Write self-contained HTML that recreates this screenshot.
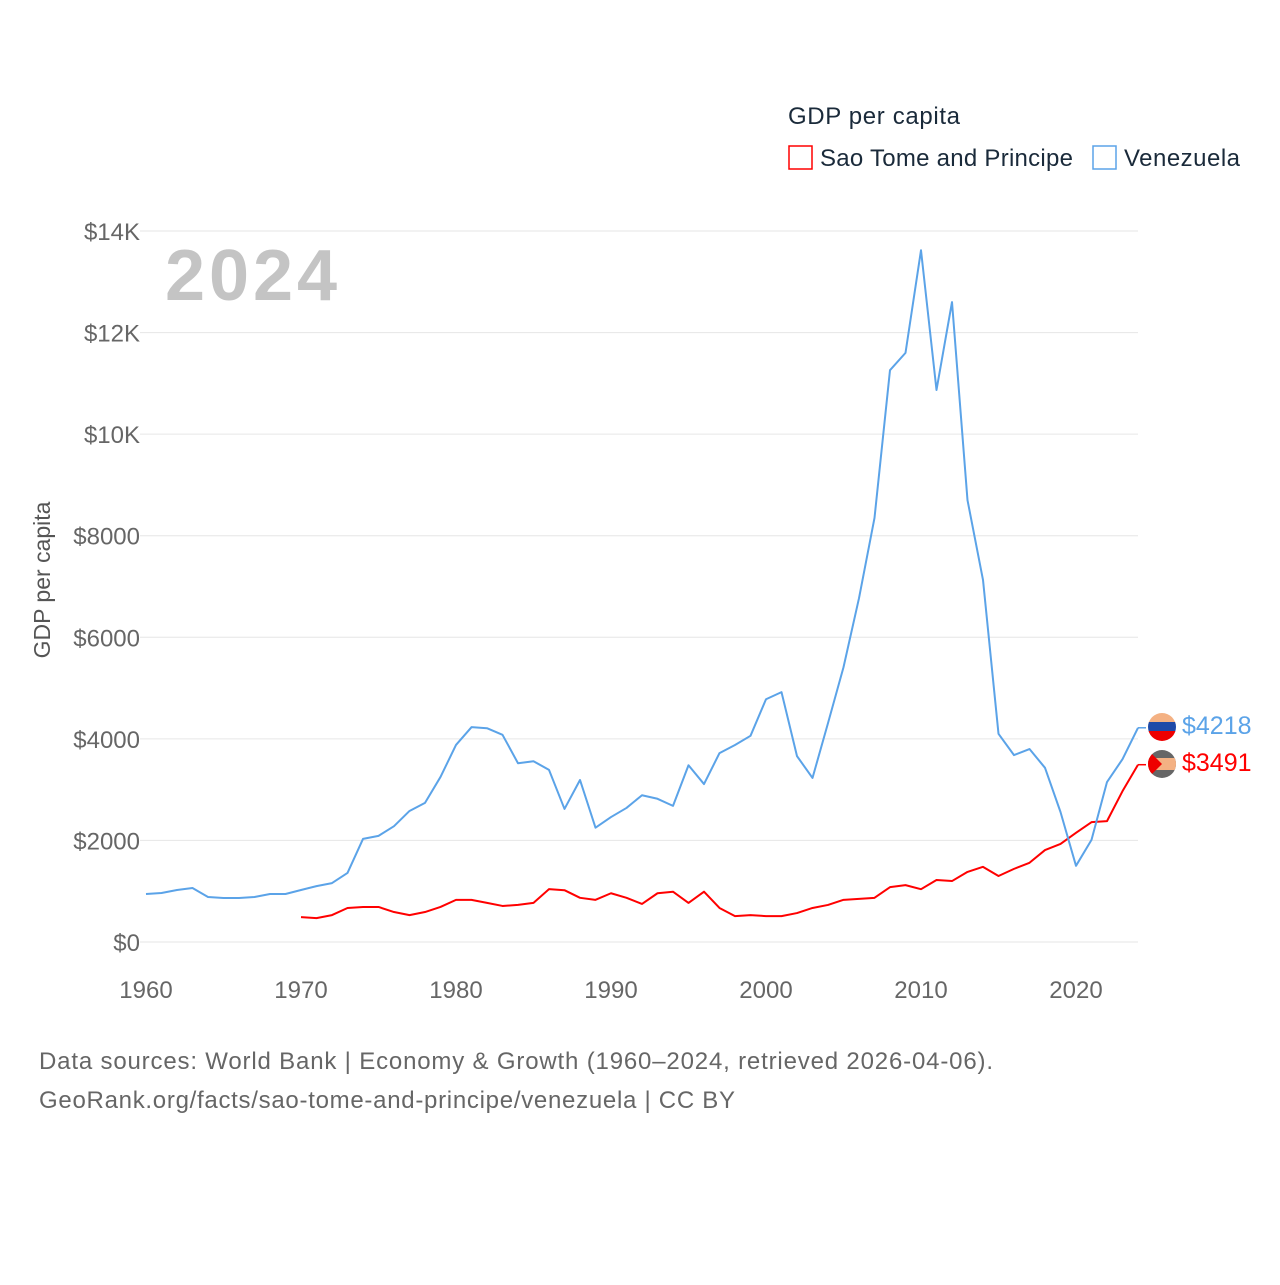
<!DOCTYPE html>
<html><head><meta charset="utf-8"><style>
body{margin:0;background:#fff;}
svg text{font-family:"Liberation Sans",sans-serif;}
</style></head><body>
<svg id="chart" width="1280" height="1280" xmlns="http://www.w3.org/2000/svg">
<defs>
<clipPath id="c1"><circle cx="1162" cy="727" r="14"/></clipPath>
<clipPath id="c2"><circle cx="1162" cy="764" r="14"/></clipPath>
</defs>
<text x="788" y="124" font-size="24" fill="#1a2a3a" textLength="172">GDP per capita</text>
<g><rect x="789" y="146" width="23" height="23" fill="none" stroke="#ff0000" stroke-width="1.5"/><text x="820" y="166" font-size="24" fill="#1a2a3a" textLength="253">Sao Tome and Principe</text></g>
<g><rect x="1093" y="146" width="23" height="23" fill="none" stroke="#5ba3e8" stroke-width="1.5"/><text x="1124" y="166" font-size="24" fill="#1a2a3a" textLength="116">Venezuela</text></g>
<text x="165" y="300" font-size="72" font-weight="bold" fill="#c4c4c4" textLength="172">2024</text>
<text transform="translate(50,580) rotate(-90)" text-anchor="middle" font-size="23" fill="#555">GDP per capita</text>
<g id="grid"></g><g id="ylabels"></g><g id="xlabels"></g><g id="lines"></g>
<g clip-path="url(#c1)"><rect x="1148" y="713" width="28" height="10" fill="#f4b183"/><rect x="1148" y="722" width="28" height="10" fill="#1f4aa8"/><rect x="1148" y="731" width="28" height="10" fill="#e00"/></g>
<g clip-path="url(#c2)"><rect x="1148" y="750" width="28" height="28" fill="#666"/><rect x="1148" y="758" width="28" height="12" fill="#f4b183"/><path d="M1148 750 L1162 764 L1148 778Z" fill="#e00"/></g>
<text x="1182" y="734" font-size="25" fill="#5ba3e8">$4218</text>
<text x="1182" y="771" font-size="25" fill="#ff0000">$3491</text>
<text x="39" y="1069" font-size="24" fill="#666" textLength="954">Data sources: World Bank | Economy &amp; Growth (1960–2024, retrieved 2026-04-06).</text>
<text x="39" y="1108" font-size="24" fill="#666" textLength="696">GeoRank.org/facts/sao-tome-and-principe/venezuela | CC BY</text>
</svg>
<script>
const yTicks=[0,2000,4000,6000,8000,10000,12000,14000];
const yTickLabels=["$0","$2000","$4000","$6000","$8000","$10K","$12K","$14K"];
const xTicks=[1960,1970,1980,1990,2000,2010,2020];
const venYears=[1960,1961,1962,1963,1964,1965,1966,1967,1968,1969,1970,1971,1972,1973,1974,1975,1976,1977,1978,1979,1980,1981,1982,1983,1984,1985,1986,1987,1988,1989,1990,1991,1992,1993,1994,1995,1996,1997,1998,1999,2000,2001,2002,2003,2004,2005,2006,2007,2008,2009,2010,2011,2012,2013,2014,2015,2016,2017,2018,2019,2020,2021,2022,2023,2024];
const venValues=[945,965,1024,1063,886,866,866,886,945,945,1024,1100,1160,1360,2030,2090,2280,2580,2740,3250,3880,4230,4210,4080,3520,3560,3390,2620,3190,2250,2460,2640,2890,2820,2680,3480,3110,3720,3880,4060,4780,4920,3660,3230,4310,5410,6770,8350,11260,11600,13620,10870,12600,8700,7130,4100,3680,3800,3430,2560,1500,2010,3150,3600,4218];
const stpYears=[1970,1971,1972,1973,1974,1975,1976,1977,1978,1979,1980,1981,1982,1983,1984,1985,1986,1987,1988,1989,1990,1991,1992,1993,1994,1995,1996,1997,1998,1999,2000,2001,2002,2003,2004,2005,2006,2007,2008,2009,2010,2011,2012,2013,2014,2015,2016,2017,2018,2019,2020,2021,2022,2023,2024];
const stpValues=[490,470,530,670,690,690,590,530,590,690,830,830,770,710,730,770,1040,1020,870,830,960,870,750,960,990,770,990,670,510,530,510,510,570,670,730,830,850,870,1080,1120,1040,1220,1200,1380,1480,1300,1440,1560,1810,1930,2150,2360,2380,2970,3491];
const NS="http://www.w3.org/2000/svg";
const xS=y=>146+(y-1960)*15.5;
const yS=v=>942-v*(711/14000);
const mk=(t,a,p)=>{const e=document.createElementNS(NS,t);for(const k in a)e.setAttribute(k,a[k]);document.getElementById(p).appendChild(e);return e;};
yTicks.forEach((v,i)=>{
 const l=mk('line',{x1:140,x2:1138,y1:yS(v),y2:yS(v),stroke:'#e6e6e6','stroke-width':1},'grid');
 
 
 const t=mk('text',{x:140,y:yS(v)+9,'text-anchor':'end','font-size':24,fill:'#666'},'ylabels');
 t.textContent=yTickLabels[i];
 
 
});
xTicks.forEach(y=>{
 const t=mk('text',{x:xS(y),y:998,'text-anchor':'middle','font-size':24,fill:'#666'},'xlabels');
 t.textContent=y;
 
 
});
function line(xs,vs,c,n){
 const p=mk('polyline',{points:xs.map((y,i)=>xS(y)+','+yS(vs[i])).join(' '),fill:'none',stroke:c,'stroke-width':2,'stroke-linejoin':'round'},'lines');
 
 
 const last=xs.length-1;
 mk('line',{x1:xS(xs[last]),x2:xS(xs[last])+8,y1:yS(vs[last]),y2:yS(vs[last]),stroke:c,'stroke-width':1.5},'lines');
}
line(stpYears,stpValues,'#ff0000','sao-tome-line');
line(venYears,venValues,'#5ba3e8','venezuela-line');
</script>
</body></html>
